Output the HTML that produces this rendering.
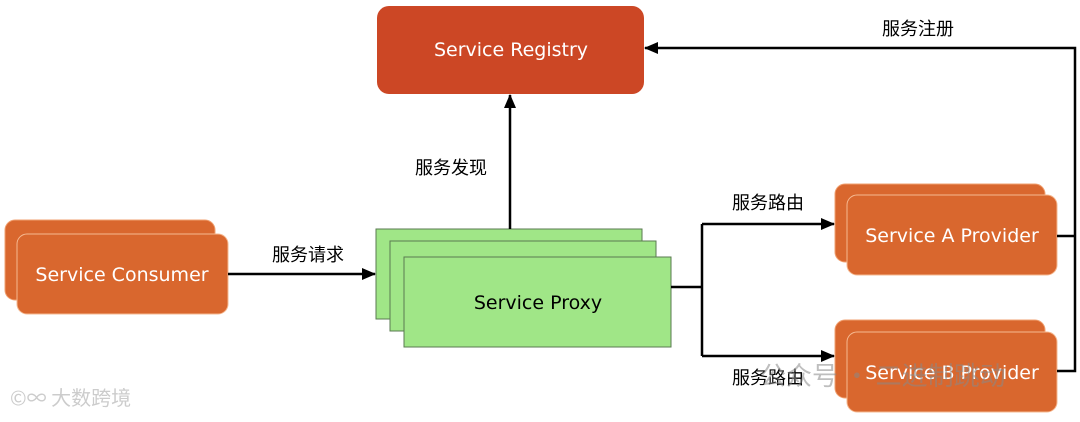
<!DOCTYPE html>
<html><head><meta charset="utf-8"><style>
body{margin:0;width:1080px;height:417px;background:#fff;overflow:hidden}
</style></head><body>
<svg width="1080" height="417" xmlns="http://www.w3.org/2000/svg" font-family="'DejaVu Sans','Noto Sans CJK SC',sans-serif">
<defs><marker id="a" markerWidth="14" markerHeight="12" refX="13" refY="6" orient="auto" markerUnits="userSpaceOnUse"><path d="M0,0 L14,6 L0,12 z" fill="#000"/></marker></defs>
<rect x="377" y="6" width="267" height="88" rx="12" fill="#cc4725"/>
<text x="511" y="56" font-size="19" fill="#fff" text-anchor="middle">Service Registry</text>
<rect x="5" y="220" width="210" height="80" rx="10" fill="#d9672e" stroke="#f0a070"/>
<rect x="17" y="234" width="211" height="80" rx="10" fill="#d9672e" stroke="#f5b890"/>
<text x="122" y="281" font-size="19" fill="#fff" text-anchor="middle">Service Consumer</text>
<rect x="376" y="229" width="266" height="90" fill="#a0e687" stroke="#5a7a50"/>
<rect x="390" y="241" width="266" height="90" fill="#a0e687" stroke="#5a7a50"/>
<rect x="404" y="257" width="267" height="90" fill="#a0e687" stroke="#5a7a50"/>
<text x="538" y="309" font-size="19" fill="#000" text-anchor="middle">Service Proxy</text>
<rect x="835" y="184" width="210" height="78" rx="10" fill="#d9672e" stroke="#f0a070"/>
<rect x="847" y="195" width="210" height="80" rx="10" fill="#d9672e" stroke="#f5b890"/>
<text x="952" y="242" font-size="19" fill="#fff" text-anchor="middle">Service A Provider</text>
<rect x="835" y="320" width="210" height="78" rx="10" fill="#d9672e" stroke="#f0a070"/>
<rect x="847" y="332" width="210" height="80" rx="10" fill="#d9672e" stroke="#f5b890"/>
<text x="952" y="379" font-size="19" fill="#fff" text-anchor="middle">Service B Provider</text>
<g stroke="#000" stroke-width="2.5" fill="none">
<path d="M228,274 H375" marker-end="url(#a)"/>
<path d="M510,229 V95" marker-end="url(#a)"/>
<path d="M671,287 H702 M702,224 V356"/>
<path d="M702,224 H834" marker-end="url(#a)"/>
<path d="M702,356 H834" marker-end="url(#a)"/>
<path d="M1057,236 H1075 M1057,371 H1075 V48 H645" marker-end="url(#a)"/>
</g>
<g font-size="18" fill="#000" text-anchor="middle" font-family="'Noto Sans CJK SC',sans-serif">
<text x="308" y="261">服务请求</text>
<text x="451" y="174">服务发现</text>
<text x="768" y="209">服务路由</text>
<text x="768" y="384">服务路由</text>
<text x="918" y="35">服务注册</text>
</g>
<text x="760" y="385" font-size="26" fill="#888" fill-opacity="0.55" font-family="'Noto Sans CJK SC',sans-serif">公众号 · 二进制跳动</text>
<text x="10" y="405" font-size="20" fill="#ccc" font-family="'Noto Sans CJK SC',sans-serif">©∞ 大数跨境</text>
</svg>
</body></html>
